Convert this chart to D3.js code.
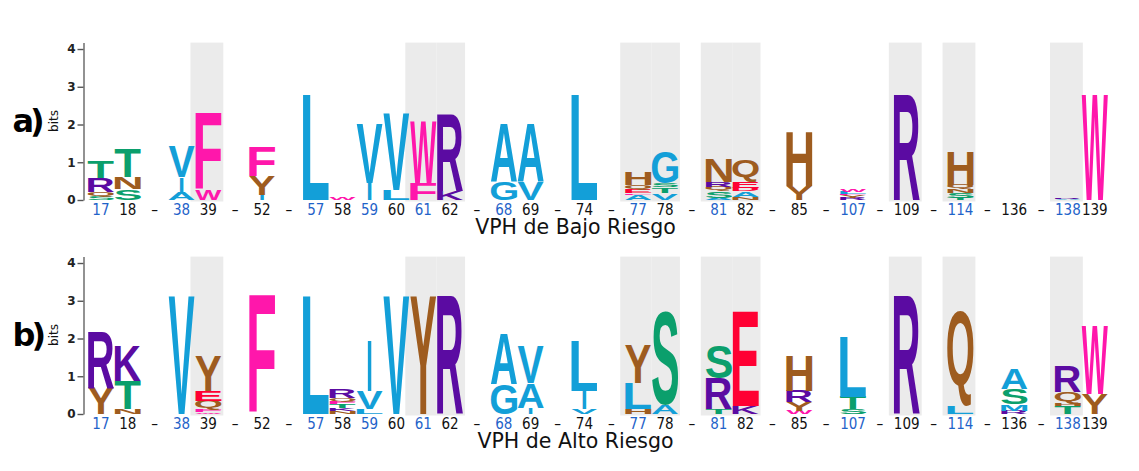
<!DOCTYPE html>
<html>
<head>
<meta charset="utf-8">
<script src="https://cdn.jsdelivr.net/npm/d3@7"></script>
<style>
  html, body { margin: 0; padding: 0; background: #fff; }
  svg { display: block; }
</style>
</head>
<body>
<svg id="chart" width="1139" height="471"></svg>
<script>
// ---------- DATA ----------
const positions = ["17","18","–","38","39","–","52","–","57","58","59","60","61","62","–","68","69","–","74","–","77","78","–","81","82","–","85","–","107","–","109","–","114","–","136","–","138","139"];
const blueLabels = ["17","38","57","59","61","68","77","81","107","114","138"];
const highlighted = ["39","61","62","77","78","81","82","109","114","138"];
const yTicks = [0, 1, 2, 3, 4];
const panelLetters = ["a)", "b)"];
const panelTitles = ["VPH de Bajo Riesgo", "VPH de Alto Riesgo"];

// stacks listed top -> bottom: [residue, bits]
const lowRiskStacks = [
  [["T",0.44],["R",0.36],["Q",0.12],["S",0.09]],
  [["T",0.74],["N",0.32],["S",0.28]],
  [],
  [["V",0.82],["I",0.42],["A",0.19]],
  [["F",2.02],["W",0.26]],
  [],
  [["F",0.8],["Y",0.5],["I",0.13]],
  [],
  [["L",2.78]],
  [["W",0.05]],
  [["V",1.55],["I",0.45]],
  [["V",2.02],["L",0.27]],
  [["W",1.62],["F",0.44]],
  [["R",2.05],["K",0.25]],
  [],
  [["A",1.53],["G",0.48]],
  [["A",1.53],["V",0.48]],
  [],
  [["L",2.78]],
  [],
  [["H",0.33],["Q",0.12],["E",0.09],["F",0.04],["A",0.14]],
  [["G",0.84],["S",0.11],["T",0.15],["V",0.18]],
  [],
  [["N",0.6],["R",0.14],["Q",0.11],["S",0.17],["A",0.06]],
  [["Q",0.55],["E",0.17],["D",0.1],["A",0.15],["N",0.08]],
  [],
  [["H",1.43],["Y",0.37]],
  [],
  [["W",0.06],["L",0.06],["F",0.04],["Y",0.07],["R",0.05]],
  [],
  [["R",2.78]],
  [],
  [["H",0.9],["Q",0.12],["N",0.1],["S",0.13],["T",0.06]],
  [],
  [],
  [],
  [["R",0.02],["A",0.02]],
  [["W",2.78]]
];

const highRiskStacks = [
  [["R",1.5],["Y",0.7]],
  [["K",0.93],["T",0.75],["N",0.13]],
  [],
  [["V",3.12]],
  [["Y",0.92],["E",0.27],["Q",0.24],["F",0.06],["W",0.04]],
  [],
  [["F",3.12]],
  [],
  [["L",3.12]],
  [["R",0.25],["Q",0.09],["F",0.07],["T",0.1],["K",0.08],["N",0.08]],
  [["I",1.32],["V",0.48],["L",0.14]],
  [["V",3.12]],
  [["Y",3.12]],
  [["R",3.12]],
  [],
  [["A",1.35],["G",0.8]],
  [["V",0.99],["A",0.66],["I",0.17]],
  [],
  [["L",1.32],["I",0.48],["V",0.13]],
  [],
  [["Y",1.02],["L",0.68],["H",0.13]],
  [["S",2.47],["A",0.22]],
  [],
  [["S",0.86],["R",0.8],["T",0.13]],
  [["E",2.51],["K",0.2]],
  [],
  [["H",0.92],["R",0.29],["Y",0.22],["W",0.09]],
  [],
  [["L",1.6],["T",0.33],["S",0.13]],
  [],
  [["R",3.12]],
  [],
  [["Q",2.51],["L",0.2]],
  [],
  [["A",0.53],["S",0.4],["M",0.18],["R",0.09]],
  [],
  [["R",0.66],["Q",0.3],["H",0.08],["T",0.2]],
  [["W",1.78],["Y",0.53]]
];

const residueColors = {
  A:"#139fd8", V:"#139fd8", L:"#139fd8", I:"#139fd8", G:"#139fd8", M:"#139fd8", P:"#139fd8",
  F:"#ff17ab", W:"#ff17ab", C:"#ff17ab",
  Y:"#9e5c1f", H:"#9e5c1f", N:"#9e5c1f", Q:"#9e5c1f",
  T:"#0b9f6c", S:"#0b9f6c",
  R:"#5b0ba2", K:"#5b0ba2",
  E:"#ff0033", D:"#ff0033"
};

// ---------- LAYOUT ----------
const svg = d3.select("#chart");
const W = 1139, H = 471;
svg.append("rect").attr("width", W).attr("height", H).attr("fill", "#fff");

const x = d3.scaleBand().domain(d3.range(positions.length)).range([87.5, 1108.2]).padding(0);
const bw = x.bandwidth();

const panels = [
  { base: 200, stacks: lowRiskStacks, letter: panelLetters[0], title: panelTitles[0] },
  { base: 414, stacks: highRiskStacks, letter: panelLetters[1], title: panelTitles[1] }
];

// glyph metrics
const canvas = document.createElement("canvas");
const ctx = canvas.getContext("2d");
const GLYPH_FONT = "'Liberation Sans', Arial, sans-serif";
const metricsCache = {};
function glyphMetrics(ch, weight) {
  const key = ch + weight;
  if (!metricsCache[key]) {
    ctx.font = weight + " 100px " + GLYPH_FONT;
    const m = ctx.measureText(ch);
    metricsCache[key] = {
      left: m.actualBoundingBoxLeft, right: m.actualBoundingBoxRight,
      ascent: m.actualBoundingBoxAscent, descent: m.actualBoundingBoxDescent
    };
  }
  return metricsCache[key];
}

panels.forEach(p => {
  const y = d3.scaleLinear().domain([0, 4.17]).range([p.base, p.base - 157.4]);
  const g = svg.append("g");

  // highlighted column shading
  positions.forEach((pos, i) => {
    if (highlighted.includes(pos)) {
      const prevHi = i > 0 && highlighted.includes(positions[i-1]);
      const nextHi = i < positions.length-1 && highlighted.includes(positions[i+1]);
      const x0 = x(i) - (prevHi ? 0 : 4.5);
      const x1 = x(i) + bw + (nextHi ? 0 : 1.5);
      g.append("rect")
        .attr("x", x0).attr("y", y(4.17))
        .attr("width", x1 - x0).attr("height", p.base + 1.5 - y(4.17))
        .attr("fill", "#ebebeb");
    }
  });

  // letters
  p.stacks.forEach((stack, i) => {
    let cum = 0;
    const bottomUp = stack.slice().reverse();
    bottomUp.forEach(([res, bits]) => {
      const yb = y(cum), yt = y(cum + bits);
      cum += bits;
      const h = yb - yt;
      if (h <= 0) return;
      const thin = res === "I";
      const weight = thin ? "normal" : "bold";
      const m = glyphMetrics(res, weight);
      const gw = m.left + m.right, gh = m.ascent + m.descent;
      const w = bw - 0.6;
      const sx = thin ? w / 72 : w / gw;
      const sy = h / gh;
      const xLeft = thin ? x(i) + bw / 2 - (gw * sx) / 2 : x(i) + 0.3;
      g.append("text")
        .attr("transform", `translate(${xLeft},${yt}) scale(${sx},${sy}) translate(${m.left},${m.ascent})`)
        .attr("font-family", GLYPH_FONT)
        .attr("font-weight", weight)
        .attr("font-size", 100)
        .attr("fill", residueColors[res] || "#888")
        .text(res);
    });
  });

  // axis
  const axis = d3.axisLeft(y).tickValues(yTicks).tickSize(6).tickSizeOuter(0).tickPadding(2).tickFormat(d3.format("d"));
  const ag = g.append("g").attr("transform", "translate(83.5,0)").call(axis);
  ag.select(".domain").attr("stroke", "#777").attr("stroke-width", 1.6);
  ag.selectAll(".tick line").attr("stroke", "#555").attr("stroke-width", 1.4);
  ag.selectAll(".tick text")
    .attr("font-family", "'DejaVu Sans', sans-serif")
    .attr("font-weight", "bold")
    .attr("font-size", 12)
    .attr("fill", "#222");

  // bits label
  g.append("text")
    .attr("transform", `translate(58.3,${p.base - 79}) rotate(-90)`)
    .attr("text-anchor", "middle")
    .attr("font-family", "'DejaVu Sans', sans-serif")
    .attr("font-size", 12)
    .attr("fill", "#111")
    .text("bits");

  // panel letter
  g.append("text")
    .attr("x", 12.5).attr("y", p.base - 68.3)
    .attr("font-family", "'DejaVu Sans', sans-serif")
    .attr("font-weight", "bold")
    .attr("font-size", 32)
    .attr("letter-spacing", -4)
    .attr("fill", "#000")
    .text(p.letter);

  // position labels
  positions.forEach((pos, i) => {
    g.append("text")
      .attr("x", x(i) + bw / 2)
      .attr("y", p.base + 15)
      .attr("text-anchor", "middle")
      .attr("font-family", "'DejaVu Sans Condensed', 'DejaVu Sans', sans-serif")
      .attr("font-size", 15)
      .attr("fill", blueLabels.includes(pos) ? "#1f63c9" : "#111")
      .text(pos);
  });

  // title
  g.append("text")
    .attr("x", 575.5).attr("y", p.base + 34)
    .attr("text-anchor", "middle")
    .attr("font-family", "'DejaVu Sans', sans-serif")
    .attr("font-size", 20.5)
    .attr("fill", "#111")
    .text(p.title);
});
</script>
</body>
</html>
